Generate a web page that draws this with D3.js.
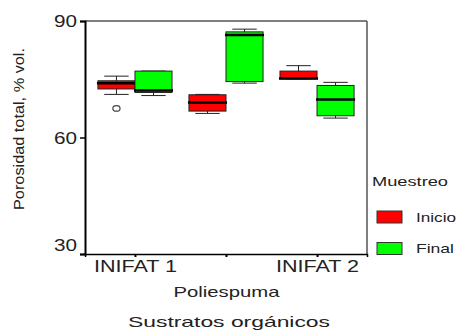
<!DOCTYPE html>
<html>
<head>
    <meta charset="utf-8">
    <script src="https://d3js.org/d3.v7.min.js"></script>
    <style>
        body { margin: 0; background: #fff; }
        text { font-family: "Liberation Sans", Arial, sans-serif; fill: #222; }
    </style>
</head>
<body>
    <svg width="456" height="335"></svg>
    <script>
        // data
        const categories = ["INIFAT 1", "Poliespuma", "INIFAT 2"]
        const series = ["Inicio", "Final"]
        const colors = ["#ff0000", "#00ff00"]
        // per category, per series: [whiskerLo, q1, median, q3, whiskerHi]
        const inicio = [
            [71.1, 72.5, 74.0, 74.6, 75.8],
            [66.2, 66.8, 69.0, 71.0, 71.1],
            [75.1, 75.1, 75.2, 77.1, 78.5]
        ]
        const final = [
            [70.8, 71.6, 72.1, 77.1, 77.1],
            [74.0, 74.4, 86.4, 87.2, 87.9],
            [65.0, 65.6, 69.8, 73.4, 74.2]
        ]
        const outliers = [{cat: "INIFAT 1", s: 0, v: 67.5}]
        const yTicks = [30, 60, 90]

        const svg = d3.select("svg")
        const pLeft = 85, pRight = 367, pTop = 21, pBottom = 254

        var x = d3.scalePoint().domain(categories).range([pLeft, pRight]).padding(0.549)
        var y = d3.scaleLinear().domain([30, 90]).range([pBottom, pTop])
        var bw = x.step() * 0.407

        // frame
        svg.append("line").attr("x1", pLeft).attr("x2", pRight).attr("y1", pTop).attr("y2", pTop)
            .attr("stroke", "#555").style("stroke-width", "1.5px")
        svg.append("line").attr("x1", pRight).attr("x2", pRight).attr("y1", pTop).attr("y2", pBottom)
            .attr("stroke", "#555").style("stroke-width", "1.5px")

        // boxes
        var boxes = []
        for (var i = 0; i < categories.length; i++) {
            boxes.push({cat: categories[i], s: 0, d: inicio[i]})
            boxes.push({cat: categories[i], s: 1, d: final[i]})
        }
        const cx = d => x(d.cat) + (d.s == 0 ? -bw / 2 : bw / 2)

        const g = svg.selectAll("g.box").data(boxes).enter().append("g").attr("class", "box")
        g.append("line")
            .attr("x1", cx).attr("x2", cx)
            .attr("y1", d => y(d.d[4])).attr("y2", d => y(d.d[0]))
            .attr("stroke", "#222").style("stroke-width", "1px")
        g.selectAll("line.cap").data(d => [d, d].map((b, k) => ({b: b, v: k ? b.d[4] : b.d[0]})))
            .enter().append("line").attr("class", "cap")
            .attr("x1", d => cx(d.b) - bw * 0.33).attr("x2", d => cx(d.b) + bw * 0.33)
            .attr("y1", d => y(d.v)).attr("y2", d => y(d.v))
            .attr("stroke", "#222").style("stroke-width", "1px")
        g.append("rect")
            .attr("x", d => cx(d) - bw / 2).attr("width", bw)
            .attr("y", d => y(d.d[3])).attr("height", d => y(d.d[1]) - y(d.d[3]))
            .attr("fill", d => colors[d.s]).attr("stroke", "#222").style("stroke-width", "1px")
        g.append("line")
            .attr("x1", d => cx(d) - bw / 2 - 1).attr("x2", d => cx(d) + bw / 2 + 1)
            .attr("y1", d => y(d.d[2])).attr("y2", d => y(d.d[2]))
            .attr("stroke", "#000").style("stroke-width", "2.5px")

        svg.selectAll("ellipse.out").data(outliers).enter().append("ellipse")
            .attr("cx", d => x(d.cat) + (d.s == 0 ? -bw / 2 : bw / 2))
            .attr("cy", d => y(d.v)).attr("rx", 3.6).attr("ry", 2.8)
            .attr("fill", "none").attr("stroke", "#444").style("stroke-width", "1.2px")

        // y axis
        const ya = svg.append("g").attr("transform", "translate(" + pLeft + ",0)")
            .call(d3.axisLeft(y).tickValues(yTicks).tickSize(5).tickPadding(3))
        ya.select(".domain").attr("stroke", "#000").style("stroke-width", "2px")
        ya.selectAll(".tick line").attr("stroke", "#000").style("stroke-width", "1.5px")
        ya.selectAll(".tick text")
            .attr("font-size", 16).attr("fill", "#222")
            .attr("textLength", 23).attr("lengthAdjust", "spacingAndGlyphs")
            .attr("dy", d => d == 30 ? "-0.22em" : "0.36em")

        // x axis
        const xa = svg.append("g").attr("transform", "translate(0," + pBottom + ")")
            .call(d3.axisBottom(x).tickSize(3))
        xa.select(".domain").attr("stroke", "#000").style("stroke-width", "1.5px")
        xa.selectAll(".tick line").attr("stroke", "#000").style("stroke-width", "2px")
        xa.selectAll(".tick text")
            .attr("fill", "#222")
            .attr("dy", 0)
            .attr("y", (d, i) => i % 2 ? 43 : 17.5)
            .attr("textLength", (d, i) => i % 2 ? 106 : 83)
            .attr("lengthAdjust", "spacingAndGlyphs")
            .attr("font-size", (d, i) => i % 2 ? 14.5 : 16)

        // titles
        svg.append("text").attr("x", 229).attr("y", 326.5).attr("text-anchor", "middle")
            .attr("font-size", 15).attr("textLength", 202).attr("lengthAdjust", "spacingAndGlyphs")
            .text("Sustratos orgánicos")
        svg.append("text").attr("transform", "translate(24,129) rotate(-90)").attr("text-anchor", "middle")
            .attr("font-size", 15.5).attr("textLength", 162).attr("lengthAdjust", "spacingAndGlyphs")
            .text("Porosidad total, % vol.")

        // legend
        svg.append("text").attr("x", 372).attr("y", 186).attr("font-size", 13)
            .attr("textLength", 76).attr("lengthAdjust", "spacingAndGlyphs").text("Muestreo")
        const lg = svg.selectAll("g.leg").data(series).enter().append("g").attr("class", "leg")
            .attr("transform", (d, i) => "translate(377," + (211 + i * 31.5) + ")")
        lg.append("rect").attr("width", 25).attr("height", 12)
            .attr("fill", (d, i) => colors[i]).attr("stroke", "#333").style("stroke-width", "1px")
        lg.append("text").attr("x", 39).attr("y", 10.5).attr("font-size", 13.5)
            .attr("textLength", (d, i) => i ? 38 : 40).attr("lengthAdjust", "spacingAndGlyphs")
            .text(d => d)
    </script>
</body>
</html>
